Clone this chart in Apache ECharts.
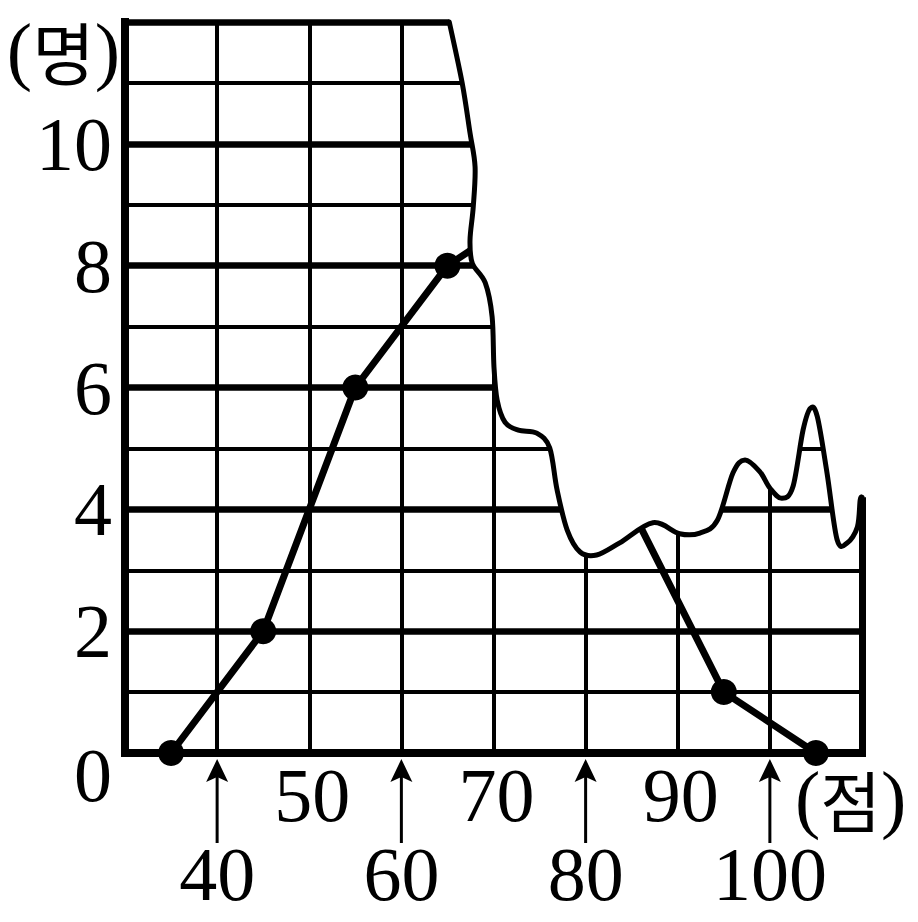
<!DOCTYPE html>
<html><head><meta charset="utf-8">
<script src="https://cdn.jsdelivr.net/npm/echarts@6/dist/echarts.min.js"></script>
<style>html,body{margin:0;padding:0;background:#fff}#c{width:918px;height:922px}</style>
</head><body><div id="c"></div>
<script>
// class marks (점) and frequencies (명); 75 and 85 lie under the torn part
const scores = [35, 45, 55, 65, 75, 85, 95, 105];
const counts = [0, 2, 6, 8, 9, 4, 1, 0];
const yTickLabels = [0, 2, 4, 6, 8, 10];
const xUpperLabels = [50, 70, 90];
const xLowerLabels = [40, 60, 80, 100];
// torn edge of the paper, in data units
const tearX = [65.2, 66.6, 67.45, 68.0, 67.8, 67.45, 67.7, 69.1, 69.85, 70.05, 70.4, 71.25, 72.7, 74.7, 76.1, 76.9, 78.0, 79.4, 81.2, 83.7, 87.3, 90.2, 92.4, 94.3, 96.0, 97.3, 98.9, 100.0, 101.3, 102.5, 103.6, 104.4, 105.15, 106.2, 107.3, 108.4, 109.5, 109.8, 110];
const tearY = [12, 11, 10.18, 9.62, 8.96, 8.42, 8.04, 7.72, 7.16, 6.34, 5.79, 5.43, 5.30, 5.25, 5.01, 4.32, 3.66, 3.30, 3.25, 3.45, 3.78, 3.60, 3.61, 3.82, 4.60, 4.81, 4.62, 4.35, 4.18, 4.37, 5.30, 5.66, 5.52, 4.60, 3.50, 3.45, 3.71, 4.15, 4.2];

const chart = echarts.init(document.getElementById('c'), null, {renderer: 'svg'});
const SERIF = 'Liberation Serif';
const KR = 'Noto Sans CJK KR';

function splinePath(pts) {
  let d = 'M' + pts[0][0] + ' ' + pts[0][1];
  for (let i = 0; i < pts.length - 1; i++) {
    const p0 = pts[i - 1] || pts[i], p1 = pts[i], p2 = pts[i + 1], p3 = pts[i + 2] || pts[i + 1];
    const c1 = [p1[0] + (p2[0] - p0[0]) / 6, p1[1] + (p2[1] - p0[1]) / 6];
    const c2 = [p2[0] - (p3[0] - p1[0]) / 6, p2[1] - (p3[1] - p1[1]) / 6];
    d += ' C' + c1[0] + ' ' + c1[1] + ' ' + c2[0] + ' ' + c2[1] + ' ' + p2[0] + ' ' + p2[1];
  }
  return d;
}

const option = {
  animation: false,
  backgroundColor: '#fff',
  grid: {left: 125, right: 56, top: 22, bottom: 169, containLabel: false, outerBoundsMode: 'none'},
  xAxis: [
    {
      type: 'value', min: 30, max: 110, interval: 10, position: 'bottom',
      axisLine: {show: true, onZero: false, lineStyle: {color: '#000', width: 8, cap: 'square'}},
      axisTick: {show: false},
      axisLabel: {
        customValues: xUpperLabels, margin: 4, color: '#000',
        fontFamily: SERIF, fontSize: 76, padding: [0, 0, 0, 6]
      },
      splitLine: {show: true, lineStyle: {color: '#000', width: 4}},
      name: '{p|(}{k|점}{p|)}',
      nameLocation: 'end', nameGap: -67, nameMoveOverlap: false,
      nameTextStyle: {
        align: 'left', verticalAlign: 'top', padding: [16, 0, 0, 0],
        rich: {
          p: {fontFamily: SERIF, fontSize: 76, lineHeight: 58, color: '#000'},
          k: {fontFamily: KR, fontSize: 66, lineHeight: 58, color: '#000'}
        }
      }
    },
    {
      type: 'value', min: 30, max: 110, interval: 80, position: 'bottom',
      axisLine: {show: false}, axisTick: {show: false},
      axisLabel: {
        customValues: xLowerLabels, margin: 88, color: '#000',
        fontFamily: SERIF, fontSize: 76, lineHeight: 66
      },
      splitLine: {show: true, lineStyle: {color: '#000', width: 7}}
    }
  ],
  yAxis: [
    {
      type: 'value', min: 0, max: 12, interval: 1, position: 'left',
      axisLine: {show: true, lineStyle: {color: '#000', width: 8, cap: 'square'}},
      axisTick: {show: false}, axisLabel: {show: false},
      splitLine: {show: true, lineStyle: {color: '#000', width: 4}},
      name: '{p|(}{k|명}{p|)}',
      nameLocation: 'end', nameGap: -28, nameMoveOverlap: false,
      nameTextStyle: {
        align: 'right', verticalAlign: 'middle', padding: [0, 5, 0, 0],
        rich: {
          p: {fontFamily: SERIF, fontSize: 76, color: '#000'},
          k: {fontFamily: KR, fontSize: 68, color: '#000'}
        }
      }
    },
    {
      type: 'value', min: 0, max: 12, interval: 2, position: 'left',
      axisLine: {show: false}, axisTick: {show: false},
      axisLabel: {
        margin: 13, color: '#000', fontFamily: SERIF, fontSize: 76,
        formatter: v => yTickLabels.includes(v) ? (v === 0 ? '{z|0}' : String(v)) : '',
        rich: {z: {fontFamily: SERIF, fontSize: 76, color: '#000', padding: [44, 0, 0, 0]}}
      },
      splitLine: {show: true, lineStyle: {color: '#000', width: 6.5}}
    }
  ],
  series: [
    {
      type: 'line', xAxisIndex: 0, yAxisIndex: 0, z: 2, clip: false,
      data: scores.map((s, i) => [s, counts[i]]),
      symbol: 'circle', symbolSize: 26, showAllSymbol: true,
      lineStyle: {color: '#000', width: 7},
      itemStyle: {color: '#000'}
    },
    {
      type: 'custom', xAxisIndex: 0, yAxisIndex: 0, z: 3, clip: false,
      data: [[0]],
      renderItem: function (params, api) {
        const pts = tearX.map((x, i) => api.coord([x, tearY[i]]));
        const first = pts[0], last = pts[pts.length - 1];
        const topRight = api.coord([110, 12]);
        const curve = splinePath(pts);
        const cover = curve + ' L' + (last[0] + 14) + ' ' + last[1] + ' L' + (last[0] + 14) + ' ' + (topRight[1] - 14) +
          ' L' + first[0] + ' ' + (first[1] - 14) + ' Z';
        return {
          type: 'group',
          children: [
            {type: 'path', shape: {pathData: cover}, style: {fill: '#fff', stroke: null}},
            {type: 'path', shape: {pathData: curve}, style: {fill: null, stroke: '#000', lineWidth: 5, lineJoin: 'round', lineCap: 'round'}}
          ]
        };
      }
    },
    {
      type: 'custom', xAxisIndex: 0, yAxisIndex: 0, z: 4, clip: false,
      data: xLowerLabels.map(v => [v, 0]),
      renderItem: function (params, api) {
        const p = api.coord([api.value(0), api.value(1)]);
        return {
          type: 'group',
          children: [
            {type: 'line', shape: {x1: p[0], y1: p[1] + 90, x2: p[0], y2: p[1] + 22}, style: {stroke: '#000', lineWidth: 3}},
            {type: 'polygon', shape: {points: [[p[0], p[1] + 6], [p[0] + 11, p[1] + 29], [p[0], p[1] + 24], [p[0] - 11, p[1] + 29]]}, style: {fill: '#000'}}
          ]
        };
      }
    }
  ]
};
chart.setOption(option);
</script>
</body></html>
